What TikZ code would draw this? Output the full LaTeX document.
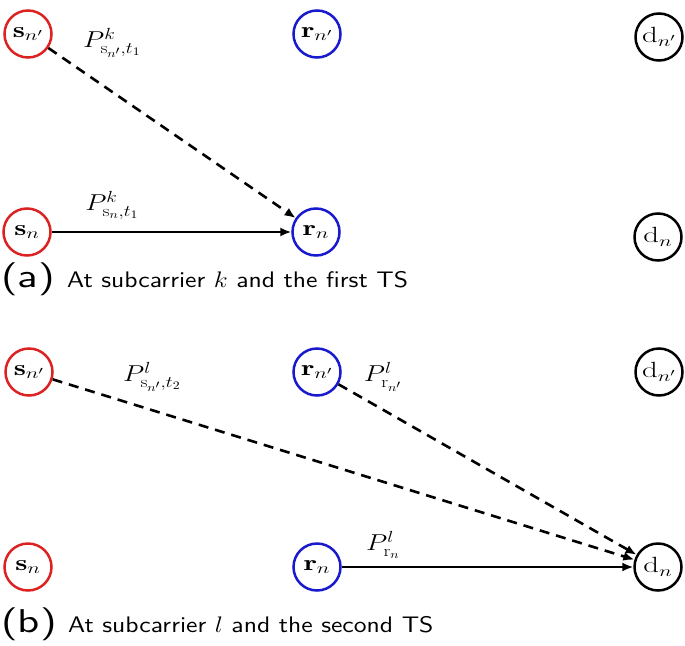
\RequirePackage{fix-cm}
\documentclass[tikz,border=0pt]{standalone}
\usepackage{fontspec}
\usepackage{graphicx}
\newfontfamily\capfont{lmsans10-regular.otf}
\newcommand\hwide[2]{\scalebox{#1}[1]{#2}}
\usetikzlibrary{arrows.meta}
\definecolor{nred}{RGB}{220,35,35}
\definecolor{nblue}{RGB}{25,25,205}
\begin{document}
\begin{tikzpicture}[x=1pt,y=-1pt,
  nd/.style={circle,draw,line width=2.5pt,minimum size=47pt,inner sep=0pt,font=\fontsize{22}{26}\selectfont},
  srcn/.style={nd,draw=nred},
  reln/.style={nd,draw=nblue},
  dstn/.style={nd,draw=black},
  lbl/.style={font=\fontsize{23}{26}\selectfont,inner sep=0pt},
  solidarr/.style={line width=2pt,-{Latex[length=11pt,width=9pt]}},
  dasharr/.style={line width=2.6pt,dash pattern=on 10pt off 7pt,-{Latex[length=11pt,width=9pt]}},
  capbig/.style={font=\capfont\fontsize{33}{38}\selectfont,inner sep=0pt,anchor=base west},
  capsmall/.style={font=\capfont\fontsize{22.5}{26}\selectfont,inner sep=0pt,anchor=base west}
]
\useasboundingbox (0,0) rectangle (685,645);
% (a)
\node[srcn] (sa1) at (28,34) {\hwide{1.4}{$\mathbf{s}_{n'}$}};
\node[reln] (ra1) at (317,34) {\hwide{1.4}{$\mathbf{r}_{n'}$}};
\node[dstn] (da1) at (659,37) {\hwide{1.4}{$\mathrm{d}_{n'}$}};
\node[srcn] (sa2) at (27,232) {\hwide{1.4}{$\mathbf{s}_{n}$}};
\node[reln] (ra2) at (316,232) {\hwide{1.4}{$\mathbf{r}_{n}$}};
\node[dstn] (da2) at (658,237) {\hwide{1.4}{$\mathrm{d}_{n}$}};
\draw[dasharr] (sa1) -- (ra2);
\draw[solidarr] (sa2) -- (ra2);
\node[lbl] (la1) at (112,43) {\hwide{1.2}{$P^{k}_{\mathrm{s}_{n'},t_1}$}};
\node[lbl] (la2) at (112,205) {\hwide{1.2}{$P^{k}_{\mathrm{s}_{n},t_1}$}};
\node[capbig] (capa) at (1,287) {\hwide{1.3}{(a)}};
\node[capsmall] (capat) at (67,287) {\hwide{1.14}{At subcarrier $k$ and the first TS}};
% (b)
\node[srcn] (sb1) at (29,372) {\hwide{1.4}{$\mathbf{s}_{n'}$}};
\node[reln] (rb1) at (317,372) {\hwide{1.4}{$\mathbf{r}_{n'}$}};
\node[dstn] (db1) at (659,372) {\hwide{1.4}{$\mathrm{d}_{n'}$}};
\node[srcn] (sb2) at (28,567) {\hwide{1.4}{$\mathbf{s}_{n}$}};
\node[reln] (rb2) at (317,567) {\hwide{1.4}{$\mathbf{r}_{n}$}};
\node[dstn] (db2) at (658,567) {\hwide{1.4}{$\mathrm{d}_{n}$}};
\draw[dasharr] (sb1) -- (db2);
\draw[dasharr] (rb1) -- (db2);
\draw[solidarr] (rb2) -- (db2);
\node[lbl] (lb1) at (152,377) {\hwide{1.2}{$P^{l}_{\mathrm{s}_{n'},t_2}$}};
\node[lbl] (lb2) at (383,377) {\hwide{1.2}{$P^{l}_{\mathrm{r}_{n'}}$}};
\node[lbl] (lb3) at (383,545) {\hwide{1.2}{$P^{l}_{\mathrm{r}_{n}}$}};
\node[capbig] (capb) at (1,632) {\hwide{1.3}{(b)}};
\node[capsmall] (capbt) at (68,632) {\hwide{1.14}{At subcarrier $l$ and the second TS}};
\end{tikzpicture}
\end{document}
